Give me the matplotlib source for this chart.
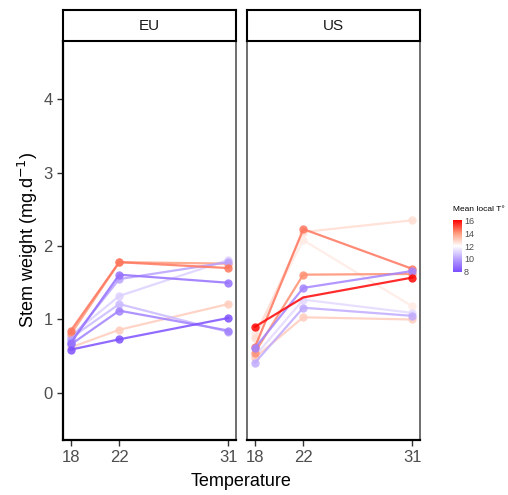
import matplotlib
matplotlib.use("Agg")
import matplotlib.pyplot as plt
import matplotlib.colors as mcolors
import numpy as np

plt.rcParams["font.family"] = ["Liberation Sans", "DejaVu Sans"]

temps = [18, 22, 31]

# EU populations: mean local temperature and stem weight at 18 / 22 / 31 °C
eu_local_t = [14.5, 14.0, 8.0, 8.8, 10.0, 11.0, 9.2, 10.5, 13.0]
eu_w18 = [0.85, 0.80, 0.59, 0.68, 0.72, 0.78, 0.66, 0.75, 0.62]
eu_w22 = [1.78, 1.78, 0.73, 1.61, 1.55, 1.32, 1.12, 1.21, 0.86]
eu_w31 = [1.70, 1.76, 1.02, 1.50, 1.78, 1.81, 0.85, 0.83, 1.21]

# US populations
us_local_t = [16.0, 14.5, 14.2, 9.3, 12.7, 12.4, 11.2, 10.2, 13.0]
us_w18 = [0.90, 0.62, 0.55, 0.61, 0.75, 0.80, 0.50, 0.41, 0.48]
us_w22 = [1.30, 2.23, 1.61, 1.43, 2.19, 2.08, 1.27, 1.16, 1.03]
us_w31 = [1.57, 1.69, 1.62, 1.66, 2.35, 1.18, 1.09, 1.05, 1.00]

yticks = [0, 1, 2, 3, 4]
cbar_ticks = [8, 10, 12, 14, 16]

cmap = mcolors.LinearSegmentedColormap.from_list(
    "t", [(0, "#7B4DFF"), (0.25, "#B8A0FF"), (0.5, "#FFFFFF"),
          (0.75, "#FF9A7A"), (1, "#FF0000")])
norm = mcolors.TwoSlopeNorm(vmin=7.9, vcenter=12, vmax=16.1)

fig = plt.figure(figsize=(5.08, 4.95), dpi=100)

panels = [
    ("EU", eu_local_t, eu_w18, eu_w22, eu_w31, 63),
    ("US", us_local_t, us_w18, us_w22, us_w31, 247),
]

W, H = 508, 495
for name, lt, w18, w22, w31, left_px in panels:
    ax = fig.add_axes([left_px / W, 1 - 440 / H, 173 / W, 399 / H])
    order = np.argsort(np.abs(np.array(lt) - 12))
    for i in order:
        c = cmap(norm(lt[i]))
        # the hottest US line shows no marker at 22 in the reference
        mk = [0, 2] if lt[i] >= 16 else None
        ax.plot(temps, [w18[i], w22[i], w31[i]], color=c, lw=1.6, alpha=0.85,
                marker="o", ms=6, mec="none", markevery=mk,
                zorder=2 + abs(lt[i] - 12))
    ax.set_xlim(17.35, 31.65)
    ax.set_ylim(-0.64, 4.79)
    ax.set_xticks(temps)
    ax.set_yticks(yticks)
    ax.tick_params(direction="out", length=4, width=1, color="#333333",
                   labelsize=12, labelcolor="#4D4D4D")
    for s in ["left", "bottom"]:
        ax.spines[s].set_linewidth(1.6)
        ax.spines[s].set_color("black")
    ax.spines["top"].set_visible(False)
    ax.spines["right"].set_linewidth(1.2)
    ax.spines["right"].set_color("#555555")
    if name == "US":
        ax.tick_params(axis="y", left=False, labelleft=False)
        ax.spines["left"].set_color("#555555")
        ax.spines["left"].set_linewidth(1.2)

    # facet strip
    sax = fig.add_axes([left_px / W, 1 - 41 / H, 173 / W, 31 / H])
    sax.set_xticks([])
    sax.set_yticks([])
    for s in sax.spines.values():
        s.set_linewidth(1.5)
        s.set_color("black")
    sax.text(0.5, 0.5, name, ha="center", va="center", fontsize=11, color="#1A1A1A",
             transform=sax.transAxes)

fig.text(28 / W, 1 - 240 / H, "Stem weight (mg.d$^{-1}$)", rotation=90,
         ha="center", va="center", fontsize=13)
fig.text(241 / W, 1 - 482 / H, "Temperature", ha="center", va="center", fontsize=13)

# colour bar legend
cax = fig.add_axes([453 / W, 1 - 272 / H, 9 / W, 52 / H])
sm = plt.cm.ScalarMappable(norm=norm, cmap=cmap)
cb = fig.colorbar(sm, cax=cax, ticks=cbar_ticks)
cb.outline.set_visible(False)
cb.ax.tick_params(length=0, labelsize=6.5, labelcolor="#4D4D4D", pad=1.5)
fig.text(453 / W, 1 - 213 / H, "Mean local T°", ha="left", va="bottom", fontsize=6)

fig.savefig("out.png", dpi=100)
